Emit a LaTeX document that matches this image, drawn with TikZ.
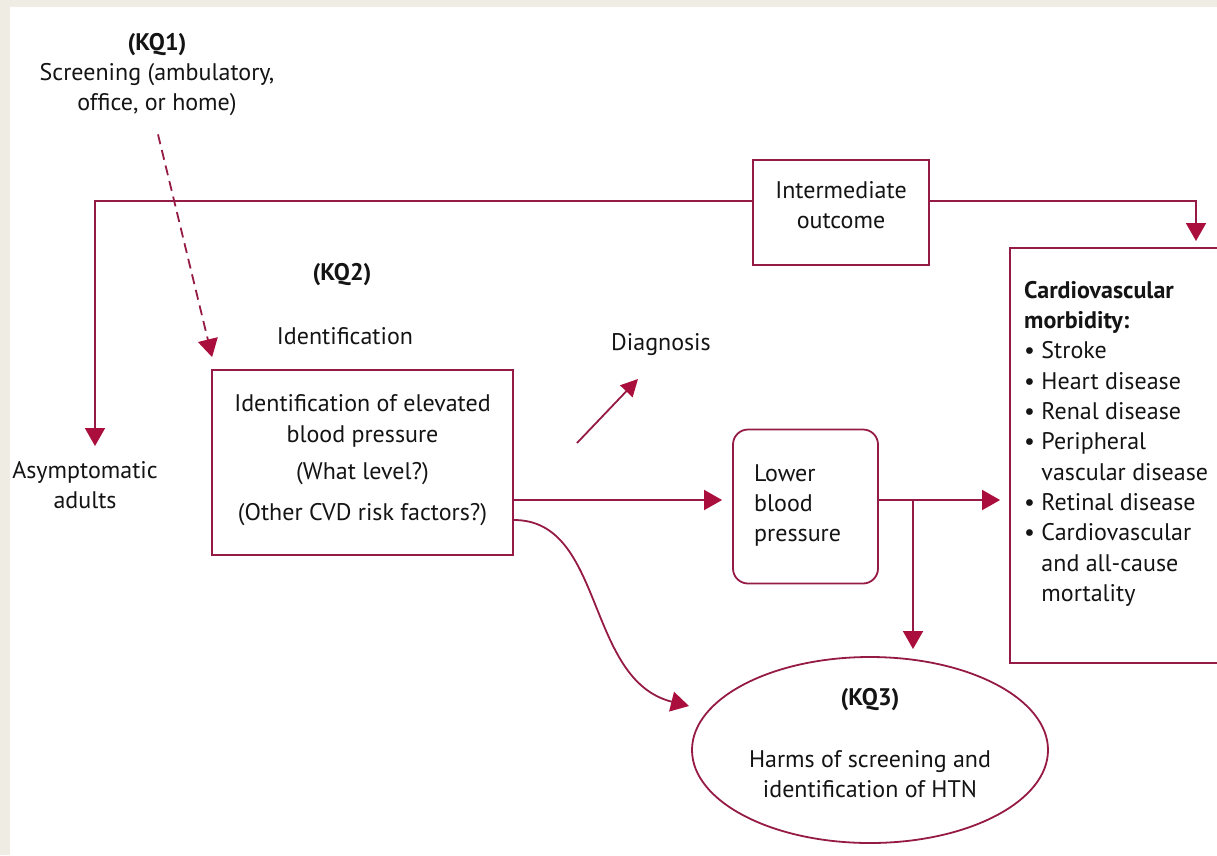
\documentclass[tikz,border=0pt]{standalone}
\usepackage{fontspec}
\setmainfont{PT Sans}
\usetikzlibrary{arrows.meta,shapes.geometric}
\definecolor{mar}{RGB}{150,26,70}
\definecolor{tip}{RGB}{170,14,60}
\definecolor{bg}{RGB}{239,237,227}
\definecolor{ink}{RGB}{20,20,20}
\begin{document}
\begin{tikzpicture}[x=1pt,y=-1pt,
  line/.style={draw=mar,line width=1.8pt},
  arr/.style={line,-{Triangle[length=18pt,width=20pt,color=tip]}},
  txt/.style={font=\fontsize{24}{30}\selectfont,text=ink,align=center,inner sep=0pt},
  bx/.style={draw=mar,line width=1.8pt,inner sep=0pt}]
\useasboundingbox (0,0) rectangle (1217,855);
\fill[bg] (0,0) rectangle (1217,855);
\fill[white] (10,7) rectangle (1217,855);

% texts
\node[txt] (kq1) at (157,75) {\textbf{(KQ1)}\\Screening (ambulatory,\\office, or home)};
\node[txt,font=\fontsize{24}{30}\selectfont\bfseries] (kq2) at (342,275) {(KQ2)};
\node[txt] (identl) at (345,336) {Identification};
\node[txt] (asym) at (85,485) {Asymptomatic\\adults};
\node[txt] (diag) at (661,345) {Diagnosis};

% boxes
\node[bx,minimum width=301pt,minimum height=185pt] (idbox) at (362.5,462.5) {};
\node[txt,font=\fontsize{24}{31}\selectfont] (idtxt) at (362.5,460) {Identification of elevated\\blood pressure\\[6pt](What level?)\\[10pt](Other CVD risk factors?)};
\node[bx,minimum width=176pt,minimum height=105pt] (inter) at (841,212.5) {};
\node[txt] (intertxt) at (841,205) {Intermediate\\outcome};
\node[bx,rounded corners=15pt,minimum width=145pt,minimum height=154pt] (low) at (805.5,506.5) {};
\node[txt,align=left,anchor=west] (lowtxt) at (754,505) {Lower\\blood\\pressure};
\node[bx,minimum width=230pt,minimum height=415pt] (cv) at (1125,455.5) {};
\node[txt,align=left,anchor=north west,font=\fontsize{24}{30.3}\selectfont] (cvtxt) at (1024,281)
 {\textbf{Cardiovascular}\\\textbf{morbidity:}\\
  \textbullet\ Stroke\\\textbullet\ Heart disease\\\textbullet\ Renal disease\\
  \textbullet\ Peripheral\\\hphantom{\textbullet\ }vascular disease\\
  \textbullet\ Retinal disease\\\textbullet\ Cardiovascular\\
  \hphantom{\textbullet\ }and all-cause\\\hphantom{\textbullet\ }mortality};
\node[draw=mar,line width=1.8pt,ellipse,minimum width=356pt,minimum height=186pt,inner sep=0pt] (harm) at (870,750) {};
\node[txt,font=\fontsize{24}{30}\selectfont\bfseries] (kq3) at (870,700) {(KQ3)};
\node[txt] (harmtxt) at (870,774) {Harms of screening and\\identification of HTN};

% coordinates
\coordinate (asymtop) at (95,446);
\coordinate (cvtop) at (1196,241);
\coordinate (br) at (913,500);
\coordinate (brend) at (913,649);
\coordinate (dstart) at (577,443);
\coordinate (dtip) at (638,379);
\coordinate (harmleft) at (689,706);

% connectors
\draw[arr] ([yshift=11.5pt]inter.west) -| (asymtop);
\draw[arr] ([yshift=11.5pt]inter.east) -| (cvtop);
\draw[arr,dash pattern=on 10pt off 6pt] (kq1.south) ++(1,18) -- ([xshift=1pt,yshift=12pt]idbox.north west);
\draw[arr] ([yshift=-37.5pt]idbox.east) -- ([yshift=6.5pt,xshift=-10pt]low.west);
\draw[arr] ([yshift=6.5pt]low.east) -- ([yshift=-44.5pt,xshift=-9pt]cv.west);
\draw[arr] (br) -- (brend);
\draw[arr] ([yshift=-57.5pt]idbox.east) .. controls (605,520) and (585,680) .. (harmleft);
\draw[arr,-{Triangle[length=17pt,width=17pt,color=tip]}] (dstart) -- (dtip);
\end{tikzpicture}
\end{document}
